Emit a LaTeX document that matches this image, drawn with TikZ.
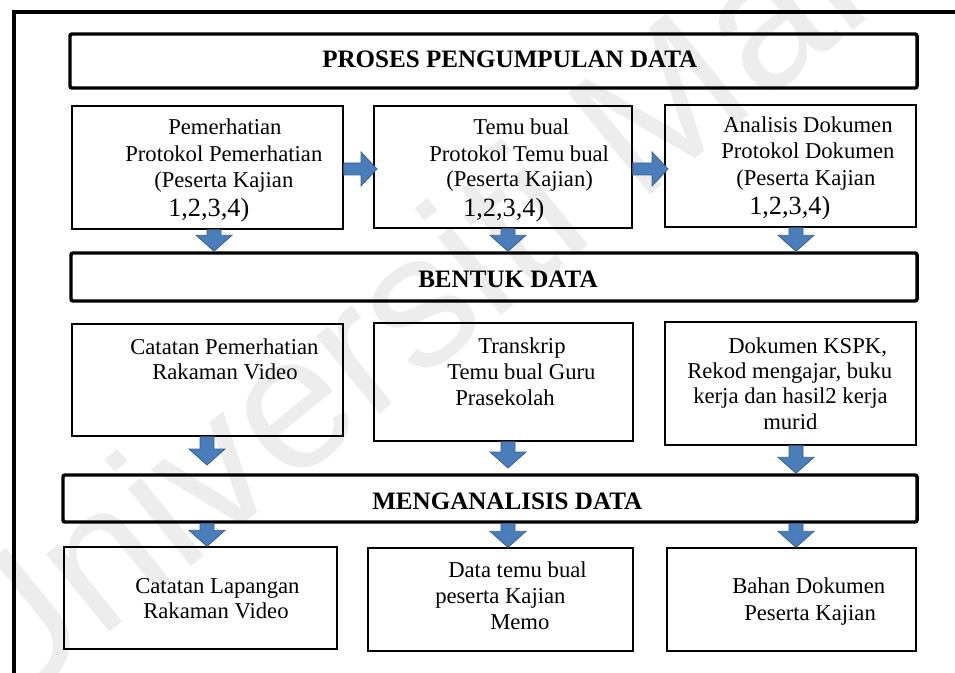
\documentclass[tikz,border=0pt]{standalone}
\usepackage{fontspec}
\setmainfont{Liberation Serif}
\newfontfamily\wmfont{Liberation Sans}
\usetikzlibrary{calc,fit}
\definecolor{arrowfill}{HTML}{4A7EBB}
\definecolor{arrowedge}{HTML}{3A6191}
\definecolor{wmgray}{HTML}{EDEDED}

% block arrow pointing down: #1 = top of the shaft, #2 = tip
\newcommand\blockdown[2]{%
  \filldraw[blk] ($(#1)+(-7,0)$) -- ($(#2)+(-7,-16)$) -- ($(#2)+(-18,-16)$) -- (#2)
    -- ($(#2)+(18,-16)$) -- ($(#2)+(7,-16)$) -- ($(#1)+(7,0)$) -- cycle;}
% block arrow pointing right: #1 = tail of the shaft, #2 = tip
\newcommand\blockright[2]{%
  \filldraw[blk] ($(#1)+(0,-6)$) -- ($(#2)+(-16,-6)$) -- ($(#2)+(-16,-17)$) -- (#2)
    -- ($(#2)+(-16,17)$) -- ($(#2)+(-16,6)$) -- ($(#1)+(0,6)$) -- cycle;}

\begin{document}
\begin{tikzpicture}[x=0.75pt,y=-0.75pt,
  hdr/.style={draw, line width=2.6pt, rounded corners=1.5pt, inner sep=0pt},
  box/.style={draw, line width=1pt, inner sep=0pt},
  body/.style={anchor=base west, inner sep=0pt, font=\fontsize{17}{20}\selectfont},
  big/.style={anchor=base west, inner sep=0pt, font=\fontsize{19.7}{22}\selectfont},
  head/.style={anchor=base west, inner sep=0pt, font=\fontsize{18.8}{22}\selectfont\bfseries},
  blk/.style={fill=arrowfill, draw=arrowedge, line width=0.6pt, line join=miter}
]
\useasboundingbox (0,0) rectangle (955,673);
\clip (0,0) rectangle (955,673);
\fill[white] (0,0) rectangle (955,673);

% faint diagonal watermark
\node[rotate=39, anchor=base west, inner sep=0pt, text=wmgray,
      font=\fontsize{142}{142}\wmfont] (wm) at (-7,727) {Universiti Malaya};

% outer frame (runs past the right and bottom edges)
\draw[line width=3pt] (13.5,720) -- (13.5,12) -- (1000,12);

% section headers
\node[hdr, fit={(70,34) (917,88)}] (h1) {};
\node[hdr, fit={(71,253) (917,301)}] (h2) {};
\node[hdr, fit={(63,475) (917,522)}] (h3) {};
\node[head] (h1t) at (322,68) {PROSES PENGUMPULAN DATA};
\node[head] (h2t) at (418,287) {BENTUK DATA};
\node[head] (h3t) at (372,509) {MENGANALISIS DATA};

% row 1: data collection methods
\node[box, fit={(72,106) (343,229)}] (r1a) {};
\node[box, fit={(374,106) (632,228)}] (r1b) {};
\node[box, fit={(665,105) (916,227)}] (r1c) {};
\node[body] (a1) at (168,135) {Pemerhatian};
\node[body] (a2) at (125,162) {Protokol Pemerhatian};
\node[body] (a3) at (154,188) {(Peserta Kajian};
\node[big]  (a4) at (168,217) {1,2,3,4)};
\node[body] (b1) at (473,135) {Temu bual};
\node[body] (b2) at (429,162) {Protokol Temu bual};
\node[body] (b3) at (446,187) {(Peserta Kajian)};
\node[big]  (b4) at (463,217) {1,2,3,4)};
\node[body] (c1) at (723,133) {Analisis Dokumen};
\node[body] (c2) at (721,159) {Protokol Dokumen};
\node[body] (c3) at (736,186) {(Peserta Kajian};
\node[big]  (c4) at (749,215) {1,2,3,4)};

% row 2: forms of data
\node[box, fit={(72,324) (343,436)}] (r2a) {};
\node[box, fit={(374,323) (633,441)}] (r2b) {};
\node[box, fit={(665,322) (916,445)}] (r2c) {};
\node[body] (d1) at (130,354) {Catatan Pemerhatian};
\node[body] (d2) at (152,379) {Rakaman Video};
\node[body] (e1) at (478,353) {Transkrip};
\node[body] (e2) at (447,379) {Temu bual Guru};
\node[body] (e3) at (455,405) {Prasekolah};
\node[body] (f1) at (728,353) {Dokumen KSPK,};
\node[body] (f2) at (687,378) {Rekod mengajar, buku};
\node[body] (f3) at (693,403) {kerja dan hasil2 kerja};
\node[body] (f4) at (763,429) {murid};

% row 3: analysed material
\node[box, fit={(64,547) (337,649)}] (r3a) {};
\node[box, fit={(368,548) (633,651)}] (r3b) {};
\node[box, fit={(667,548) (916,651)}] (r3c) {};
\node[body] (g1) at (135,593) {Catatan Lapangan};
\node[body] (g2) at (143,618) {Rakaman Video};
\node[body] (k1) at (448,577) {Data temu bual};
\node[body] (k2) at (435,603) {peserta Kajian};
\node[body] (k3) at (490,629) {Memo};
\node[body] (m1) at (732,593) {Bahan Dokumen};
\node[body] (m2) at (744,620) {Peserta Kajian};

% arrow columns
\coordinate (xa1) at (214,0);
\coordinate (xa) at (207,0);
\coordinate (xb) at (508,0);
\coordinate (xc) at (796,0);
\coordinate (ya) at (0,169);
\coordinate (tipAB) at (377,169);
\coordinate (tipBC) at (668,169);
\coordinate (tipA2) at (207,465);
\coordinate (tipB2) at (508,468);

% sideways arrows between the collection methods
\blockright{r1a.east |- ya}{tipAB}
\blockright{r1b.east |- ya}{tipBC}

% row 1 -> BENTUK DATA
\blockdown{r1a.south -| xa1}{h2.north -| xa1}
\blockdown{r1b.south -| xb}{h2.north -| xb}
\blockdown{r1c.south -| xc}{h2.north -| xc}
% row 2 -> MENGANALISIS DATA
\blockdown{r2a.south -| xa}{tipA2}
\blockdown{r2b.south -| xb}{tipB2}
\blockdown{r2c.south -| xc}{h3.north -| xc}
% MENGANALISIS DATA -> row 3
\blockdown{h3.south -| xa}{r3a.north -| xa}
\blockdown{h3.south -| xb}{r3b.north -| xb}
\blockdown{h3.south -| xc}{r3c.north -| xc}
\end{tikzpicture}
\end{document}
